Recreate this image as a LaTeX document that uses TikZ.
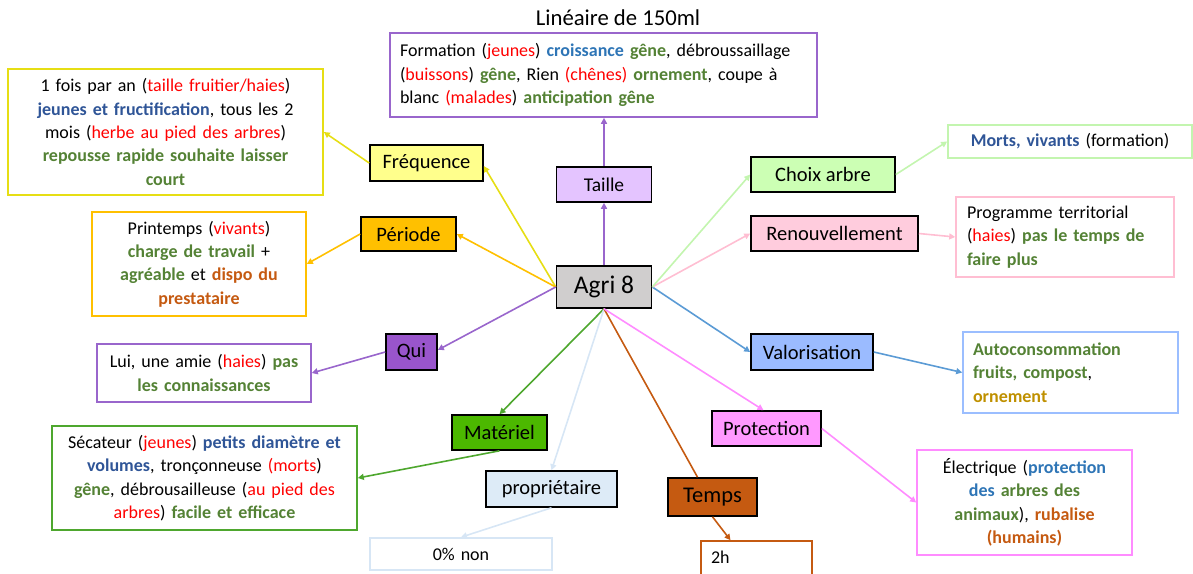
\documentclass[tikz,border=0pt]{standalone}
\usepackage{fontspec}
\setmainfont{Carlito}
\usetikzlibrary{arrows.meta}
\definecolor{tred}{RGB}{255,0,0}
\definecolor{tgreen}{RGB}{84,130,53}
\definecolor{tblueD}{RGB}{47,85,151}
\definecolor{tblueL}{RGB}{46,117,182}
\definecolor{torange}{RGB}{197,90,17}
\definecolor{tgold}{RGB}{191,144,0}
\definecolor{cyel}{RGB}{230,222,20}
\definecolor{fyel}{RGB}{255,255,140}
\definecolor{corg}{RGB}{255,192,0}
\definecolor{cpur}{RGB}{153,102,204}
\definecolor{fqui}{RGB}{153,85,204}
\definecolor{ftaille}{RGB}{228,196,255}
\definecolor{fagri}{RGB}{208,206,206}
\definecolor{fchoix}{RGB}{204,255,180}
\definecolor{cchoix}{RGB}{195,245,175}
\definecolor{frenou}{RGB}{255,204,221}
\definecolor{crenou}{RGB}{255,190,210}
\definecolor{fvalo}{RGB}{155,187,255}
\definecolor{cvalo}{RGB}{91,155,213}
\definecolor{bvalo}{RGB}{155,190,255}
\definecolor{fprot}{RGB}{255,153,255}
\definecolor{cprot}{RGB}{255,140,255}
\definecolor{ftemps}{RGB}{197,90,17}
\definecolor{fmat}{RGB}{76,184,0}
\definecolor{cmat}{RGB}{78,167,46}
\definecolor{fprop}{RGB}{221,235,247}
\definecolor{cprop}{RGB}{215,230,245}
\newcommand\cred[1]{\textcolor{tred}{#1}}
\newcommand\cgreen[1]{\textcolor{tgreen}{\textbf{#1}}}
\newcommand\cblueD[1]{\textcolor{tblueD}{\textbf{#1}}}
\newcommand\cblueL[1]{\textcolor{tblueL}{\textbf{#1}}}
\newcommand\corange[1]{\textcolor{torange}{\textbf{#1}}}
\newcommand\cgold[1]{\textcolor{tgold}{\textbf{#1}}}
\tikzset{
  topic/.style={draw=black, line width=1.6pt, inner sep=0pt, font=\fontsize{20.5}{24}\selectfont},
  infobox/.style={draw, line width=1.6pt, inner xsep=10pt, inner ysep=0pt, font=\fontsize{18}{23.4}\selectfont},
  link/.style={line width=1.6pt, -{Triangle[length=6pt,width=6pt]}},
  plain/.style={line width=1.6pt}
}
\begin{document}
\begin{tikzpicture}[x=1pt,y=-1pt]
\useasboundingbox (0,0) rectangle (1193,573);
% title
\node[font=\fontsize{22.7}{27}\selectfont] (title) at (618,18) {Linéaire de 150ml};
% centre
\node[topic, fill=fagri, minimum width=95pt, minimum height=42pt, font=\fontsize{25.5}{30}\selectfont] (agri) at (604,287) {Agri 8};
% topics
\node[topic, fill=ftaille, minimum width=95pt, minimum height=35pt, font=\fontsize{19.5}{23}\selectfont] (taille) at (604,184.5) {Taille};
\node[topic, fill=fyel, minimum width=113pt, minimum height=36pt] (freq) at (426.5,163) {Fréquence};
\node[topic, fill=corg, minimum width=95pt, minimum height=34pt] (periode) at (408.5,234) {Période};
\node[topic, fill=fqui, minimum width=51pt, minimum height=36pt] (qui) at (411.5,352) {Qui};
\node[topic, fill=fmat, minimum width=95pt, minimum height=35pt] (mat) at (499.5,432.5) {Matériel};
\node[topic, fill=fprop, minimum width=131pt, minimum height=36pt] (prop) at (551.5,489) {propriétaire};
\node[topic, fill=ftemps, minimum width=89pt, minimum height=38pt, font=\fontsize{22.5}{26}\selectfont] (temps) at (712.5,497) {Temps};
\node[topic, fill=fprot, minimum width=109pt, minimum height=35pt] (prot) at (766.5,428.5) {Protection};
\node[topic, fill=fvalo, minimum width=122pt, minimum height=36pt] (valo) at (812,352) {Valorisation};
\node[topic, fill=frenou, minimum width=167pt, minimum height=35pt] (renou) at (834.5,233.5) {Renouvellement};
\node[topic, fill=fchoix, minimum width=144pt, minimum height=35pt] (choix) at (823,174.5) {Choix arbre};
% info boxes
\node[infobox, draw=cpur, minimum width=427pt, minimum height=84pt, text width=407pt, align=left] (tailleBox) at (603.5,75)
 {Formation (\cred{jeunes}) \cblueL{croissance} \cgreen{gêne}, débroussaillage\\
  (\cred{buissons}) \cgreen{gêne}, Rien \cred{(chênes)} \cgreen{ornement}, coupe à\\
  blanc \cred{(malades}) \cgreen{anticipation gêne}};
\node[infobox, draw=cyel, minimum width=315pt, minimum height=126pt, text width=295pt, align=center] (freqBox) at (165.5,132)
 {1 fois par an (\cred{taille fruitier/haies})\\
  \cblueD{jeunes et fructification}, tous les 2\\
  mois (\cred{herbe au pied des arbres})\\
  \cgreen{repousse rapide souhaite laisser}\\
  \cgreen{court}};
\node[infobox, draw=corg, minimum width=214pt, minimum height=104pt, text width=194pt, align=center] (perBox) at (199,264)
 {Printemps (\cred{vivants})\\
  \cgreen{charge de travail} +\\
  \cgreen{agréable} et \corange{dispo du}\\
  \corange{prestataire}};
\node[infobox, draw=cpur, minimum width=214pt, minimum height=58pt, text width=194pt, align=center] (quiBox) at (204,373)
 {Lui, une amie (\cred{haies}) \cgreen{pas}\\
  \cgreen{les connaissances}};
\node[infobox, draw=cmat, minimum width=305pt, minimum height=104pt, text width=285pt, align=center] (matBox) at (204.5,478)
 {Sécateur (\cred{jeunes}) \cblueD{petits diamètre et}\\
  \cblueD{volumes}, tronçonneuse \cred{(morts})\\
  \cgreen{gêne}, débrousailleuse (\cred{au pied des}\\
  \cred{arbres}) \cgreen{facile et efficace}};
\node[infobox, draw=cprop, minimum width=182pt, minimum height=32pt, text width=162pt, align=center] (zeroBox) at (461,554) {0\% non};
\node[infobox, draw=torange, minimum width=111pt, minimum height=39pt, text width=91pt, align=left, text depth=6pt] (twoh) at (756.5,560.5) {2h};
\node[infobox, draw=cprot, minimum width=215pt, minimum height=105pt, text width=195pt, align=center] (elecBox) at (1024.5,502.5)
 {Électrique (\cblueL{protection}\\
  \cblueL{des} \cgreen{arbres des}\\
  \cgreen{animaux}), \corange{rubalise}\\
  \corange{(humains)}};
\node[infobox, draw=bvalo, minimum width=215pt, minimum height=81pt, text width=195pt, align=left] (autoBox) at (1070.5,372.5)
 {\cgreen{Autoconsommation}\\
  \cgreen{fruits, compost},\\
  \cgold{ornement}};
\node[infobox, draw=crenou, minimum width=216pt, minimum height=80pt, text width=196pt, align=left, inner xsep=11pt] (progBox) at (1065,237)
 {Programme territorial\\
  (\cred{haies}) \cgreen{pas le temps de}\\
  \cgreen{faire plus}};
\node[infobox, draw=cchoix, minimum width=244pt, minimum height=33pt, text width=224pt, align=center] (mortsBox) at (1070,141.5)
 {\cblueD{Morts, vivants} (formation)};
% connectors from centre
\draw[link, cpur, line width=2pt] (agri.north) -- (taille.south);
\draw[link, cyel] (agri.west) -- ([yshift=-3pt]freq.east);
\draw[link, corg] (agri.west) -- (periode.east);
\draw[link, cpur] (agri.west) -- ([yshift=2pt]qui.east);
\draw[link, cmat] (agri.south) -- (mat.north);
\draw[link, cprop] (agri.south) -- (prop.north);
\draw[plain, torange] (agri.south) -- ([xshift=-15pt]temps.north);
\draw[link, cprot] (agri.south) -- ([xshift=-3pt]prot.north);
\draw[link, cvalo] (agri.east) -- (valo.west);
\draw[link, crenou] (agri.east) -- (renou.west);
\draw[link, cchoix] (agri.east) -- (choix.west);
% connectors to info boxes
\draw[link, cpur, line width=2pt] (taille.north) -- (taille.north |- tailleBox.south);
\draw[link, cyel] (freq.west) -- (freqBox.east);
\draw[link, corg] (periode.west) -- (perBox.east);
\draw[link, cpur] (qui.west) -- (quiBox.east);
\draw[link, cmat] (mat.south) -- (matBox.east);
\draw[link, cprop] (prop.south) -- (zeroBox.north);
\draw[link, torange] (temps.south) -- ([xshift=-26pt]twoh.north);
\draw[link, cprot] (prot.east) -- (elecBox.west);
\draw[link, cvalo] (valo.east) -- (autoBox.west);
\draw[link, crenou] (renou.east) -- (progBox.west);
\draw[link, cchoix] (choix.east) -- (mortsBox.west);
\end{tikzpicture}
\end{document}
